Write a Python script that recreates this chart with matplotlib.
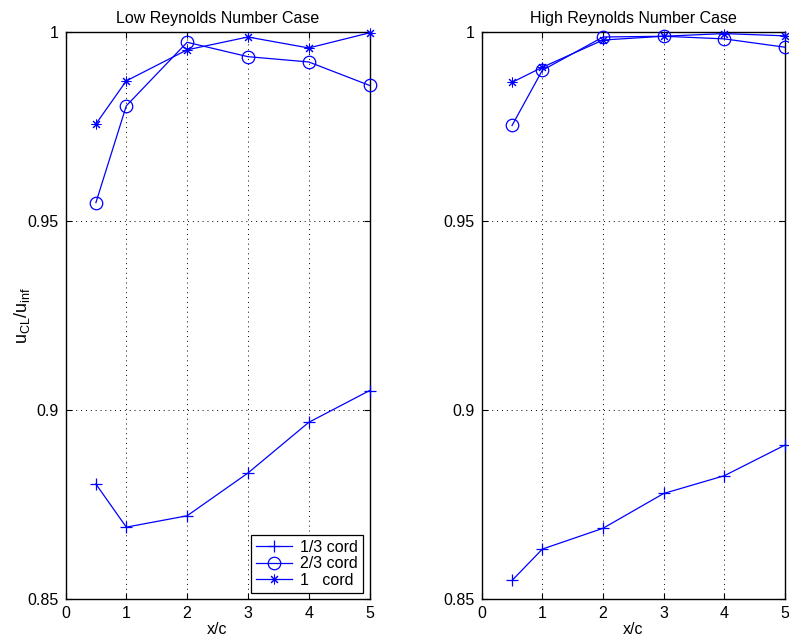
import matplotlib
matplotlib.use("Agg")
import matplotlib.pyplot as plt

plt.rcParams['font.family'] = ['Liberation Sans', 'DejaVu Sans']
plt.rcParams['mathtext.default'] = 'regular'

x = [0.5, 1, 2, 3, 4, 5]

low_13 = [0.8804, 0.8690, 0.8720, 0.8833, 0.8967, 0.9051]
low_23 = [0.9548, 0.9804, 0.9972, 0.9934, 0.9920, 0.9858]
low_1 = [0.9756, 0.9870, 0.9952, 0.9986, 0.9957, 0.9997]

high_13 = [0.8549, 0.8632, 0.8687, 0.8779, 0.8826, 0.8907]
high_23 = [0.9752, 0.9898, 0.9986, 0.9988, 0.9981, 0.9959]
high_1 = [0.9866, 0.9906, 0.9978, 0.9988, 0.9995, 0.9989]

titles = ["Low Reynolds Number Case", "High Reynolds Number Case"]
labels = ["1/3 cord", "2/3 cord", "1   cord"]
xticks = [0, 1, 2, 3, 4, 5]
yticks = [0.85, 0.9, 0.95, 1]
yticklabels = ["0.85", "0.9", "0.95", "1"]

fig = plt.figure(figsize=(7.89, 6.43), dpi=100)
W, H = 789, 643
axes = [
    fig.add_axes([65.5 / W, (H - 599) / H, 304 / W, 567.3 / H]),
    fig.add_axes([481.7 / W, (H - 599) / H, 303.3 / W, 567.3 / H]),
]

blue = '#0000ff'
datasets = [(low_13, low_23, low_1), (high_13, high_23, high_1)]
markers = ['+', 'o', (8, 2, 0)]
msizes = [9, 9, 7]
mews = [0.9, 0.9, 0.75]

for ax, data, title in zip(axes, datasets, titles):
    for ys, m, ms, mew, lab in zip(data, markers, msizes, mews, labels):
        ax.plot(x, ys, color=blue, marker=m, markersize=ms, markerfacecolor='none',
                markeredgecolor=blue, markeredgewidth=mew, linewidth=0.9, label=lab,
                clip_on=False, zorder=3)
    ax.set_xlim(0, 5)
    ax.set_ylim(0.85, 1)
    ax.set_xticks(xticks)
    ax.set_yticks(yticks)
    ax.set_yticklabels(yticklabels)
    ax.tick_params(direction='in', length=4, width=0.8, labelsize=11.5, colors='black',
                   top=True, right=True, pad=5)
    ax.grid(True, linestyle=(0, (1, 4)), color='black', linewidth=0.7)
    for s in ax.spines.values():
        s.set_linewidth(1.0)
    ax.set_title(title, fontsize=11.5, pad=6)
    ax.set_xlabel("x/c", fontsize=11.5, labelpad=1)

axes[0].set_ylabel(r"u$_{CL}$/u$_{inf}$", fontsize=13)
axes[0].yaxis.set_label_coords(-0.11, 0.5)
leg = axes[0].legend(loc='lower right', fontsize=11.5, frameon=True, fancybox=False,
                     edgecolor='black', framealpha=1, borderpad=0.3, labelspacing=0.1,
                     handlelength=2.3, handletextpad=0.5, borderaxespad=0.4)
leg.get_frame().set_linewidth(0.9)

fig.savefig("out.png", dpi=100)
